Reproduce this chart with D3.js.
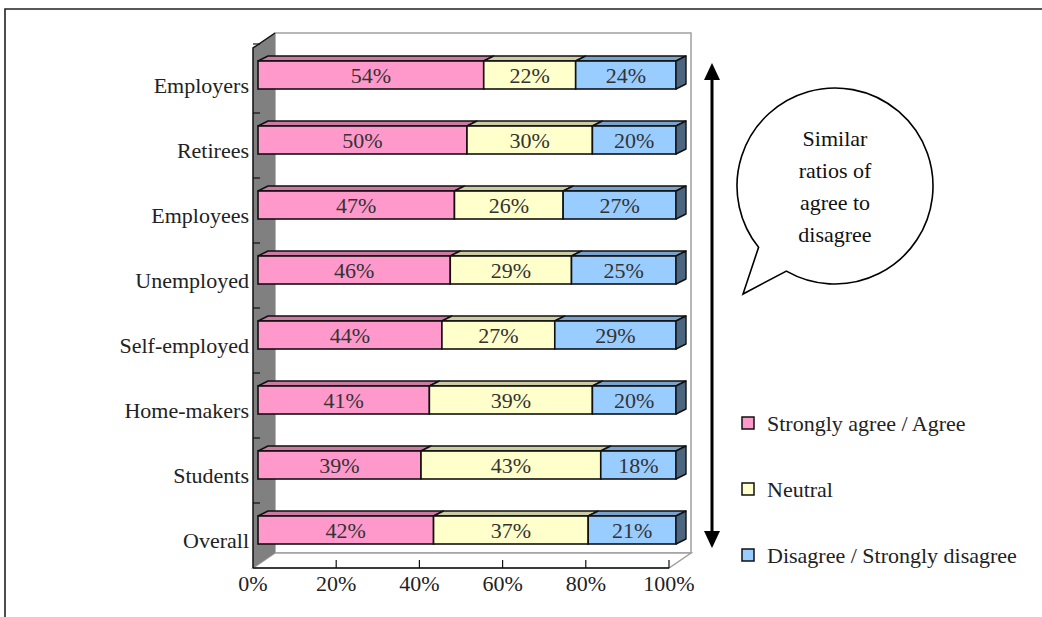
<!DOCTYPE html>
<html><head><meta charset="utf-8">
<script src="https://cdn.jsdelivr.net/npm/d3@7"></script>
<style>html,body{margin:0;padding:0;background:#fff;}svg{display:block;}</style>
</head><body>
<script>
const categories = ["Employers","Retirees","Employees","Unemployed","Self-employed","Home-makers","Students","Overall"];
const agree    = [54,50,47,46,44,41,39,42];
const neutral  = [22,30,26,29,27,39,43,37];
const disagree = [24,20,27,25,29,20,18,21];
const seriesNames = ["Strongly agree / Agree","Neutral","Disagree / Strongly disagree"];
const xTicks = [0,20,40,60,80,100];
const bubbleLines = ["Similar","ratios of","agree to","disagree"];

const W=1042,H=617;
const FONT="'Liberation Serif','Times New Roman',serif";
const colors=["#FF99CC","#FFFFCC","#99CCFF"];
const topColors=["#CC7AA3","#CCCCA3","#7AA3CC"];
const sideColors=["#804D66","#808066","#4D6680"];

const svg=d3.select("body").append("svg").attr("width",W).attr("height",H);

// outer frame
svg.append("path").attr("d","M5,617 L5,9 L1042,9").attr("fill","none").attr("stroke","#222").attr("stroke-width",1.6);

// geometry
const fx0=253, fx1=669, fy0=48, fy1=568;      // front plane
const wdx=22, wdy=-15;                         // wall depth
const x=d3.scaleLinear().domain([0,100]).range([fx0,fx1]);
const xb=d3.scaleLinear().domain([0,100]).range([258,676]);
const y=d3.scaleBand().domain(categories).range([fy0,fy1]);
const bh=28, bdx=10, bdy=-5, bShift=-5.5;

// back wall
svg.append("rect").attr("x",fx0+wdx).attr("y",fy0+wdy).attr("width",fx1-fx0).attr("height",fy1-fy0)
  .attr("fill","#fff").attr("stroke","#A0A0A0").attr("stroke-width",1.5);
// floor
svg.append("path").attr("d",`M${fx0},${fy1} L${fx0+wdx},${fy1+wdy} L${fx1+wdx},${fy1+wdy} L${fx1},${fy1} Z`)
  .attr("fill","#fff").attr("stroke","#A0A0A0").attr("stroke-width",1.5);
// left wall
svg.append("path").attr("d",`M${fx0},${fy0} L${fx0+wdx},${fy0+wdy} L${fx0+wdx},${fy1+wdy} L${fx0},${fy1} Z`)
  .attr("fill","#808080").attr("stroke","none");
svg.append("path").attr("d",`M${fx0},${fy1} L${fx0},${fy0} L${fx0+wdx},${fy0+wdy}`)
  .attr("fill","none").attr("stroke","#111").attr("stroke-width",1.5);
// x axis line
svg.append("line").attr("x1",fx0).attr("x2",fx1).attr("y1",fy1).attr("y2",fy1).attr("stroke","#111").attr("stroke-width",1.5);
// x ticks
svg.selectAll(".xt").data(xTicks.slice(1)).enter().append("line")
  .attr("x1",d=>x(d)).attr("x2",d=>x(d)).attr("y1",fy1-8).attr("y2",fy1).attr("stroke","#111").attr("stroke-width",1.2);
svg.selectAll(".xl").data(xTicks).enter().append("text")
  .attr("x",d=>x(d)).attr("y",fy1+23).attr("text-anchor","middle")
  .attr("font-family",FONT).attr("font-size",22).attr("fill","#222").text(d=>d+"%");
// y ticks (band boundaries)
const yBounds=categories.map(c=>y(c)).slice(1);
svg.selectAll(".yt").data(yBounds).enter().append("line")
  .attr("x1",fx0).attr("x2",fx0+7).attr("y1",d=>d).attr("y2",d=>d).attr("stroke","#111").attr("stroke-width",1.2);
svg.append("line").attr("x1",fx0).attr("x2",fx0+7).attr("y1",fy0-4).attr("y2",fy0-4).attr("stroke","#111").attr("stroke-width",1.2);
// y labels
svg.selectAll(".yl").data(categories).enter().append("text")
  .attr("x",fx0-4).attr("y",d=>y(d)+y.bandwidth()/2+12).attr("text-anchor","end")
  .attr("font-family",FONT).attr("font-size",22).attr("fill","#222").text(d=>d);

// bars
categories.forEach((c,i)=>{
  const vals=[agree[i],neutral[i],disagree[i]];
  const yc=y(c)+y.bandwidth()/2+bShift;
  const top=yc-bh/2;
  let cum=0;
  const g=svg.append("g");
  vals.forEach((v,k)=>{
    const a=xb(cum), b=xb(cum+v);
    g.append("path").attr("d",`M${a},${top} L${a+bdx},${top+bdy} L${b+bdx},${top+bdy} L${b},${top} Z`)
      .attr("fill",topColors[k]).attr("stroke","#111").attr("stroke-width",1.4).attr("stroke-linejoin","round");
    g.append("rect").attr("x",a).attr("y",top).attr("width",b-a).attr("height",bh)
      .attr("fill",colors[k]).attr("stroke","#111").attr("stroke-width",1.6);
    if(k===2){
      g.append("path").attr("d",`M${b},${top} L${b+bdx},${top+bdy} L${b+bdx},${top+bdy+bh} L${b},${top+bh} Z`)
        .attr("fill",sideColors[k]).attr("stroke","#111").attr("stroke-width",1.4).attr("stroke-linejoin","round");
    }
    g.append("text").attr("x",(a+b)/2).attr("y",yc+8).attr("text-anchor","middle")
      .attr("font-family",FONT).attr("font-size",22).attr("fill","#333").text(v+"%");
    cum+=v;
  });
});

// double arrow
const ax=712, ay0=63, ay1=548;
svg.append("line").attr("x1",ax).attr("x2",ax).attr("y1",ay0+14).attr("y2",ay1-14).attr("stroke","#000").attr("stroke-width",3);
svg.append("path").attr("d",`M${ax},${ay0} L${ax-8},${ay0+17} L${ax+8},${ay0+17} Z`).attr("fill","#000");
svg.append("path").attr("d",`M${ax},${ay1} L${ax-8},${ay1-17} L${ax+8},${ay1-17} Z`).attr("fill","#000");

// speech bubble
const cx=835, cy=186, r=98;
const ang1=Math.atan2(247-cy,759-cx), ang2=Math.atan2(270-cy,787-cx);
const p1=[cx+r*Math.cos(ang1), cy+r*Math.sin(ang1)], p2=[cx+r*Math.cos(ang2), cy+r*Math.sin(ang2)];
svg.append("path").attr("d",`M${p2[0]},${p2[1]} A${r},${r} 0 1 0 ${p1[0]},${p1[1]} L743,294 Z`)
  .attr("fill","#fff").attr("stroke","#000").attr("stroke-width",1.6).attr("stroke-linejoin","miter");
svg.selectAll(".bl").data(bubbleLines).enter().append("text")
  .attr("x",cx).attr("y",(d,i)=>146+i*32).attr("text-anchor","middle")
  .attr("font-family",FONT).attr("font-size",22).attr("fill","#111").text(d=>d);

// legend
seriesNames.forEach((n,k)=>{
  const ly=424+k*66;
  svg.append("rect").attr("x",742).attr("y",ly-7).attr("width",12).attr("height",12)
    .attr("fill",colors[k]).attr("stroke","#111").attr("stroke-width",1.5);
  svg.append("text").attr("x",767).attr("y",ly+7).attr("font-family",FONT).attr("font-size",22)
    .attr("fill","#222").text(n);
});
</script>
</body></html>
